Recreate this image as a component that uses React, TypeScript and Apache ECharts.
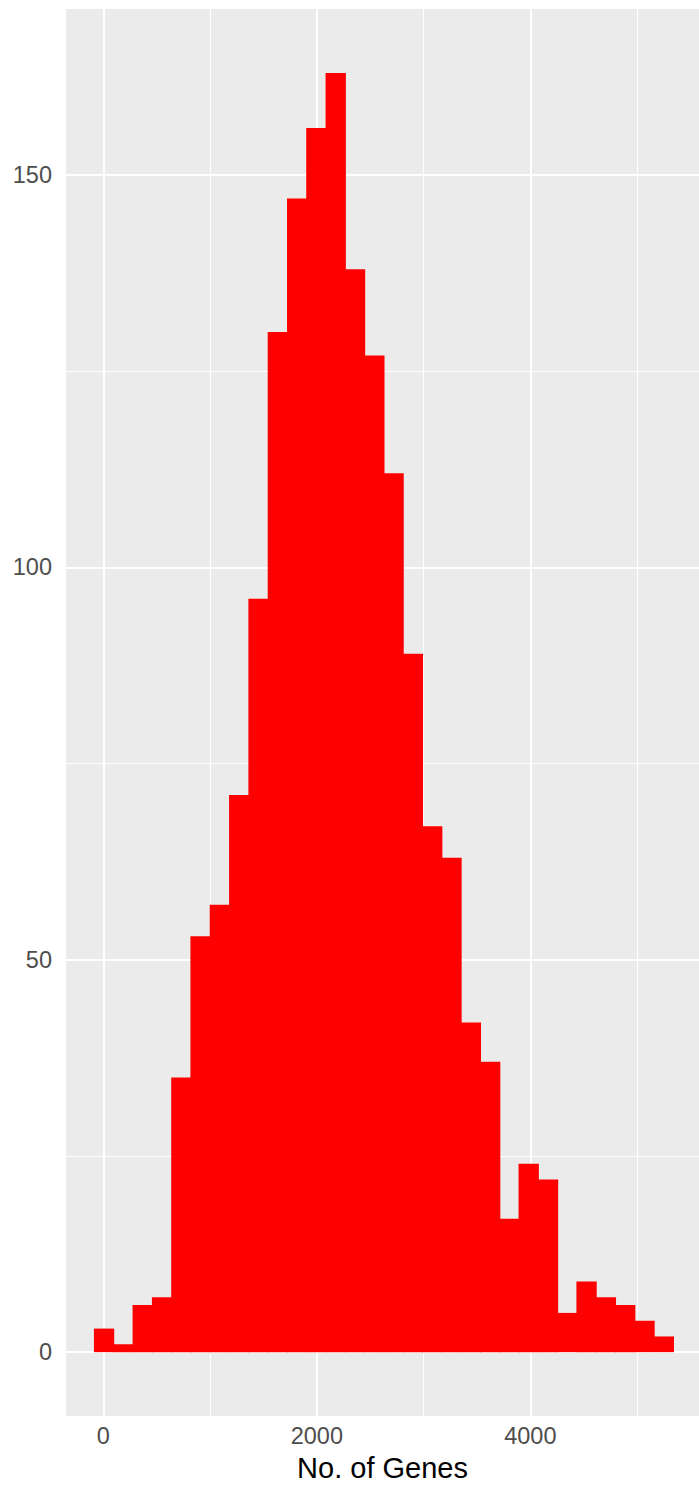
import React, { useEffect, useRef } from "react";
import * as echarts from "echarts";

// Histogram of genes per cell (30 bins)
const binCenters = [
  2, 183, 364, 545, 726, 906, 1087, 1268, 1449, 1630,
  1811, 1991, 2172, 2353, 2534, 2714, 2895, 3076, 3257, 3438,
  3619, 3799, 3980, 4161, 4342, 4522, 4703, 4884, 5065, 5246,
];
const binWidth = 180.8;
const counts = [
  3, 1, 6, 7, 35, 53, 57, 71, 96, 130,
  147, 156, 163, 138, 127, 112, 89, 67, 63, 42,
  37, 17, 24, 22, 5, 9, 7, 6, 4, 2,
];

const xTicks = [0, 2000, 4000];
const xMinor = [1000, 3000, 5000];
const yTicks = [0, 50, 100, 150];
const yMinor = [25, 75, 125];

const xTitle = "No. of Genes";

export default function App() {
  const ref = useRef<HTMLDivElement>(null);

  useEffect(() => {
    if (!ref.current) return;
    const chart = echarts.init(ref.current, undefined, { renderer: "svg" });
    const font = "'Liberation Sans', Arial, Helvetica, sans-serif";

    const gridLines = [
      ...xTicks.map((v) => ({ xAxis: v, lineStyle: { width: 2 } })),
      ...xMinor.map((v) => ({ xAxis: v, lineStyle: { width: 1 } })),
      ...yTicks.map((v) => ({ yAxis: v, lineStyle: { width: 2 } })),
      ...yMinor.map((v) => ({ yAxis: v, lineStyle: { width: 1 } })),
    ];

    chart.setOption({
      animation: false,
      grid: {
        left: 66,
        right: 0,
        top: 9,
        bottom: 67,
        show: true,
        backgroundColor: "#EBEBEB",
        borderWidth: 0,
      },
      xAxis: {
        type: "value",
        min: -350,
        max: 5580,
        name: xTitle,
        nameLocation: "middle",
        nameGap: 36,
        nameTextStyle: { color: "#000", fontSize: 29, fontFamily: font },
        axisLine: { show: false },
        splitLine: { show: false },
        axisTick: {
          show: true,
          length: 7,
          customValues: xTicks,
          lineStyle: { color: "#333333", width: 2 },
        },
        axisLabel: {
          customValues: xTicks,
          formatter: (v: number) => String(v),
          color: "#4D4D4D",
          fontSize: 23.5,
          fontFamily: font,
          margin: 8,
        },
      },
      yAxis: {
        type: "value",
        min: -8.15,
        max: 171.15,
        axisLine: { show: false },
        splitLine: { show: false },
        axisTick: {
          show: true,
          length: 7,
          customValues: yTicks,
          lineStyle: { color: "#333333", width: 2 },
        },
        axisLabel: {
          customValues: yTicks,
          formatter: (v: number) => String(v),
          color: "#4D4D4D",
          fontSize: 23.5,
          fontFamily: font,
          margin: 14,
        },
      },
      series: [
        {
          type: "line",
          data: [],
          z: 1,
          silent: true,
          markLine: {
            z: 1,
            silent: true,
            symbol: ["none", "none"],
            label: { show: false },
            emphasis: { disabled: true },
            lineStyle: { color: "#FFFFFF", type: "solid", width: 2 },
            data: gridLines,
          },
        },
        {
          type: "custom",
          z: 3,
          silent: true,
          data: binCenters.map((c, i) => [c, counts[i]]),
          encode: { x: 0, y: 1 },
          renderItem: (_params: any, api: any) => {
            const c = api.value(0);
            const v = api.value(1);
            const p0 = api.coord([c - binWidth / 2, v]);
            const p1 = api.coord([c + binWidth / 2, 0]);
            return {
              type: "rect",
              shape: {
                x: p0[0],
                y: p0[1],
                width: p1[0] - p0[0] + 1,
                height: p1[1] - p0[1],
              },
              style: { fill: "#FF0000", stroke: null, lineWidth: 0 },
            };
          },
        },
      ],
    });

    return () => chart.dispose();
  }, []);

  return (
    <div
      ref={ref}
      style={{ position: "absolute", left: 0, top: 0, width: 699, height: 1487 }}
    />
  );
}
